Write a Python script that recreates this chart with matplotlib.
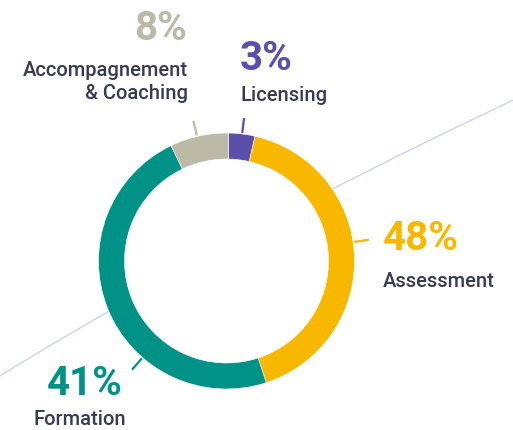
import matplotlib.pyplot as plt
from matplotlib.patches import Arc, Circle
import numpy as np

# arc sizes as drawn in the picture (clockwise from top) and the printed labels
categories = ["Licensing", "Assessment", "Formation", "Accompagnement\n& Coaching"]
shares = [3.3, 41.4, 47.9, 7.4]
pct_labels = ["3%", "48%", "41%", "8%"]
colors = ["#5a4fab", "#f9b800", "#009287", "#bdb9a7"]

text_dark = "#363b52"
font = "Roboto"

fig = plt.figure(figsize=(5.13, 4.30), dpi=100)
ax = fig.add_axes([0, 0, 1, 1])

# decorative thin background arc (very large circle)
bg = Arc((2774, -4497), 2 * 5330, 2 * 5330, theta1=113, theta2=123,
         color="#c9d3f2", lw=1.0, zorder=0)
ax.add_patch(bg)

cx, cy, r = 226.5, 169, 128
# white disc so the background line stays hidden behind the ring
ax.add_patch(Circle((cx, cy), r, facecolor="white", edgecolor="none", zorder=0.5))

wedges, _ = ax.pie(shares, colors=colors, startangle=89, counterclock=False,
                   center=(cx, cy), radius=r, frame=True,
                   wedgeprops=dict(width=26, edgecolor="white", linewidth=0.4))
for w in wedges:
    w.set_zorder(1)
ax.set_xlim(0, 513)
ax.set_ylim(0, 430)
ax.axis("off")

# leader ticks (angle clockwise from top)
tick_angles = [7, 81.5, 221, 346.7]
for a, c in zip(tick_angles, colors):
    t = np.deg2rad(90 - a)
    r0, r1 = r + 1, r + 16
    ax.plot([cx + r0 * np.cos(t), cx + r1 * np.cos(t)],
            [cy + r0 * np.sin(t), cy + r1 * np.sin(t)],
            color=c, lw=1.6, solid_capstyle="butt", zorder=1)

# text positions: (x, baseline y, align); for the two-line label y is the last line
pct_pos = [(240, 360, "left"), (383, 180, "left"), (123, 35, "right"), (187, 390, "right")]
lab_pos = [(240, 329, "left"), (383, 143, "left"), (126, 5, "right"), (188, 331, "right")]

for i in range(len(categories)):
    x, y, ha = pct_pos[i]
    ax.text(x, y, pct_labels[i], color=colors[i], fontsize=29, fontweight="bold",
            family=font, ha=ha, va="baseline")
    x, y, ha = lab_pos[i]
    ax.text(x, y, categories[i], color=text_dark, fontsize=14.5, fontweight="medium",
            family=font, ha=ha, va="baseline", multialignment="right",
            linespacing=1.3)

plt.savefig("out.png", dpi=100)
